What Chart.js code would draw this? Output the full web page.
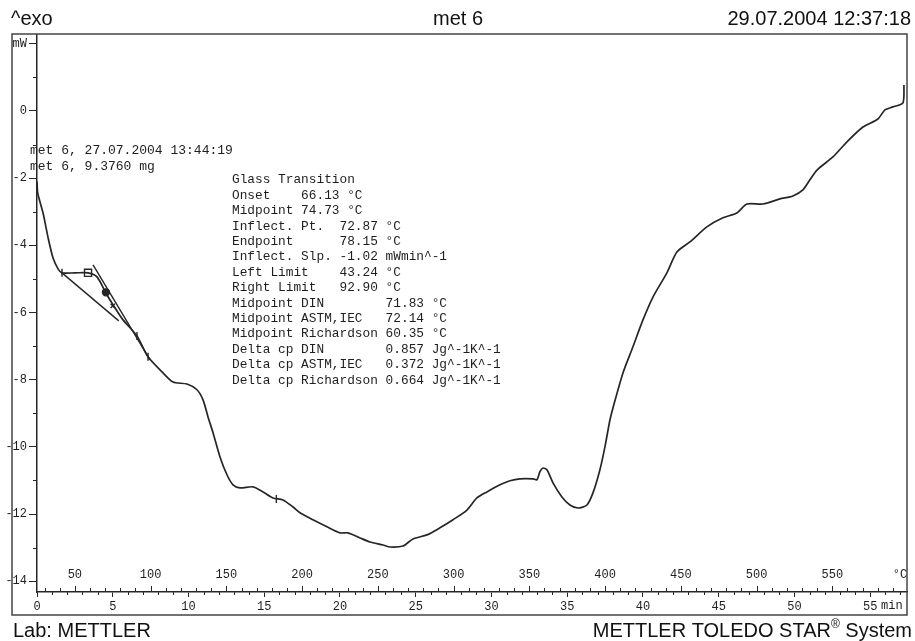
<!DOCTYPE html>
<html>
<head>
<meta charset="utf-8">
<script src="https://cdn.jsdelivr.net/npm/chart.js@4/dist/chart.umd.min.js"></script>
<style>
  html, body { margin: 0; padding: 0; background: #fff; }
  #wrap { width: 915px; height: 641px; }
</style>
</head>
<body>
<div id="wrap"><canvas id="dsc" width="915" height="641"></canvas></div>
<script>
// DSC run "met 6" - heat flow (mW) against time (min), heating 10 K/min from 25 °C
const timeMin = [0, 0.05, 0.4, 0.73, 1.06, 1.39, 1.65, 2.51, 3.37, 3.96, 4.62, 5.02, 5.68, 6.6, 7.33,
  8.32, 8.98, 9.9, 10.56, 10.96, 11.29, 11.62, 12.08, 12.54, 12.94, 13.4, 14.26, 14.92, 15.58, 16.24,
  16.9, 17.36, 18.22, 19.14, 20.0, 20.53, 21.32, 21.98, 22.84, 23.3, 24.16, 24.82, 25.74, 26.6, 27.46,
  28.38, 29.04, 29.7, 30.56, 31.22, 31.88, 32.74, 33.0, 33.2, 33.4, 33.66, 34.06, 34.65, 35.18, 35.71,
  36.3, 36.7, 37.16, 37.49, 37.82, 38.02, 38.68, 39.34, 40.0, 40.66, 41.58, 42.24, 43.1, 44.22, 45.28,
  46.2, 46.86, 47.92, 49.04, 49.9, 50.56, 51.02, 51.49, 52.54, 53.47, 54.52, 55.51, 55.97, 56.5, 57.16, 57.23];
const heatFlow = [-2.10, -2.45, -3.04, -3.77, -4.38, -4.70, -4.82, -4.82, -4.82, -4.94, -5.48, -5.77, -6.22, -6.70, -7.32,
  -7.80, -8.07, -8.13, -8.30, -8.60, -9.11, -9.58, -10.30, -10.83, -11.13, -11.22, -11.19, -11.34, -11.52, -11.58,
  -11.79, -11.96, -12.17, -12.38, -12.56, -12.56, -12.71, -12.83, -12.92, -12.98, -12.95, -12.74, -12.62, -12.41, -12.17,
  -11.88, -11.52, -11.34, -11.13, -11.01, -10.95, -10.95, -10.98, -10.74, -10.63, -10.68, -11.07, -11.49, -11.73, -11.82,
  -11.73, -11.37, -10.68, -10.00, -9.20, -8.84, -7.80, -7.02, -6.22, -5.54, -4.82, -4.20, -3.90, -3.45, -3.18,
  -3.04, -2.77, -2.77, -2.62, -2.53, -2.35, -2.05, -1.76, -1.37, -0.92, -0.48, -0.24, 0.03, 0.12, 0.24, 0.77];

// glass transition construction lines
const baselineTime = [1.65, 5.4];
const baselineFlow = [-4.82, -6.25];
const tangentTime = [3.70, 7.46];
const tangentFlow = [-4.58, -7.41];

// evaluation markers: left limit, onset box, midpoint, inflection, ticks
const markerTime = [1.65, 3.37, 4.55, 5.0, 6.6, 7.33, 15.8];
const markerFlow = [-4.82, -4.82, -5.40, -5.80, -6.70, -7.32, -11.55];

// axis ticks and labels
const yTickStep = 2;
const xTickStep = 5;
const tempLabels = [50, 100, 150, 200, 250, 300, 350, 400, 450, 500, 550];
const startTemp = 25;
const heatRate = 10;

const headerLeft = '^exo';
const headerMid = 'met 6';
const headerRight = '29.07.2004 12:37:18';
const footerLeft = 'Lab: METTLER';
const footerRight = 'METTLER TOLEDO STAR';
const sampleLines = ['met 6, 27.07.2004 13:44:19', 'met 6, 9.3760 mg'];
const resultLines = [
  'Glass Transition',
  'Onset    66.13 °C',
  'Midpoint 74.73 °C',
  'Inflect. Pt.  72.87 °C',
  'Endpoint      78.15 °C',
  'Inflect. Slp. -1.02 mWmin^-1',
  'Left Limit    43.24 °C',
  'Right Limit   92.90 °C',
  'Midpoint DIN        71.83 °C',
  'Midpoint ASTM,IEC   72.14 °C',
  'Midpoint Richardson 60.35 °C',
  'Delta cp DIN        0.857 Jg^-1K^-1',
  'Delta cp ASTM,IEC   0.372 Jg^-1K^-1',
  'Delta cp Richardson 0.664 Jg^-1K^-1'
];

const ink = '#262626';
const mono = '"Liberation Mono", "DejaVu Sans Mono", monospace';
const sans = '"Liberation Sans", Arial, sans-serif';

const toPoints = (xs, ys) => xs.map((x, i) => ({ x: x, y: ys[i] }));

const framePlugin = {
  id: 'mettlerFrame',
  afterDraw(chart) {
    const ctx = chart.ctx;
    const xs = chart.scales.x;
    const ys = chart.scales.y;
    const area = chart.chartArea;
    ctx.save();

    // outer frame
    ctx.strokeStyle = '#444';
    ctx.lineWidth = 1.5;
    ctx.strokeRect(12, 34, area.right - 12, 615 - 34);

    // minor y ticks every 1 mW
    ctx.strokeStyle = ink;
    ctx.lineWidth = 1;
    for (let v = Math.ceil(ys.min); v <= ys.max; v++) {
      if (v % yTickStep === 0) continue;
      const py = Math.round(ys.getPixelForValue(v)) + 0.5;
      ctx.beginPath();
      ctx.moveTo(area.left - 4, py);
      ctx.lineTo(area.left, py);
      ctx.stroke();
    }

    // minute ticks (down) and temperature ticks (up)
    const by = area.bottom;
    for (let t = 1; t < xs.max; t++) {
      if (t % xTickStep === 0) continue;
      const px = Math.round(xs.getPixelForValue(t)) + 0.5;
      ctx.beginPath();
      ctx.moveTo(px, by);
      ctx.lineTo(px, by + 3);
      ctx.stroke();
    }
    for (let T = startTemp + 5; ; T += 10) {
      const t = (T - startTemp) / heatRate;
      if (t > xs.max) break;
      const px = Math.round(xs.getPixelForValue(t)) + 0.5;
      const len = tempLabels.includes(T) ? 6 : 4;
      ctx.beginPath();
      ctx.moveTo(px, by);
      ctx.lineTo(px, by - len);
      ctx.stroke();
    }

    // temperature labels above the axis
    ctx.fillStyle = '#1e1e1e';
    ctx.font = '12px ' + mono;
    ctx.textAlign = 'center';
    ctx.textBaseline = 'middle';
    tempLabels.forEach(T => {
      const px = xs.getPixelForValue((T - startTemp) / heatRate);
      ctx.fillText(String(T), px, 575);
    });
    ctx.fillText('°C', 900, 575);
    ctx.textAlign = 'left';
    ctx.fillText('min', 881, 606);

    // header and footer
    ctx.font = '20px ' + sans;
    ctx.textBaseline = 'alphabetic';
    ctx.fillStyle = '#111';
    ctx.textAlign = 'left';
    ctx.fillText(headerLeft, 11, 25);
    ctx.textAlign = 'center';
    ctx.fillText(headerMid, 458, 25);
    ctx.textAlign = 'right';
    ctx.fillText(headerRight, 911, 25);
    ctx.textAlign = 'left';
    ctx.fillText(footerLeft, 13, 637);
    ctx.textAlign = 'right';
    ctx.fillText('System', 912, 637);
    const sysW = ctx.measureText(' System').width;
    ctx.font = '12px ' + sans;
    ctx.fillText('®', 912 - sysW, 628);
    const regW = ctx.measureText('®').width;
    ctx.font = '20px ' + sans;
    ctx.fillText(footerRight, 912 - sysW - regW, 637);

    // sample info and evaluation results
    ctx.font = '13px ' + mono;
    ctx.fillStyle = '#1e1e1e';
    ctx.textAlign = 'left';
    ctx.textBaseline = 'middle';
    sampleLines.forEach((s, i) => ctx.fillText(s, 30, 151 + i * 16));
    ctx.font = '12.8px ' + mono;
    resultLines.forEach((s, i) => ctx.fillText(s, 232, 180 + i * 15.4));

    ctx.restore();
  }
};

new Chart(document.getElementById('dsc'), {
  type: 'line',
  data: {
    datasets: [
      {
        data: toPoints(timeMin, heatFlow),
        borderColor: ink,
        borderWidth: 1.7,
        pointRadius: 0,
        tension: 0.25,
        fill: false
      },
      {
        data: toPoints(baselineTime, baselineFlow),
        borderColor: ink,
        borderWidth: 1.4,
        pointRadius: 0,
        fill: false
      },
      {
        data: toPoints(tangentTime, tangentFlow),
        borderColor: ink,
        borderWidth: 1.4,
        pointRadius: 0,
        fill: false
      },
      {
        data: toPoints(markerTime, markerFlow),
        showLine: false,
        pointStyle: ['line', 'rect', 'circle', 'crossRot', 'line', 'line', 'line'],
        rotation: [90, 0, 0, 0, 90, 90, 90],
        pointRadius: [4, 5, 3.5, 3, 4, 4, 4],
        pointBorderWidth: 1.4,
        pointBorderColor: ink,
        pointBackgroundColor: ['#fff', '#fff', ink, ink, ink, ink, ink]
      }
    ]
  },
  options: {
    responsive: false,
    animation: false,
    devicePixelRatio: 1,
    layout: { padding: { top: 35, right: 8, left: 0, bottom: 0 } },
    plugins: {
      legend: { display: false },
      tooltip: { enabled: false }
    },
    scales: {
      x: {
        type: 'linear',
        position: 'bottom',
        min: 0,
        max: 57.43,
        afterFit: s => { s.height = 49; },
        border: { display: true, color: ink, width: 1.5 },
        grid: { drawOnChartArea: false, tickLength: 5, color: ink },
        ticks: {
          stepSize: xTickStep,
          includeBounds: false,
          autoSkip: false,
          maxRotation: 0,
          padding: 3,
          color: '#1e1e1e',
          font: { family: mono, size: 12 }
        }
      },
      y: {
        type: 'linear',
        position: 'left',
        min: -14.32,
        max: 2.26,
        afterFit: s => { s.width = 37; },
        border: { display: true, color: ink, width: 1.5 },
        grid: { drawOnChartArea: false, tickLength: 8, color: ink },
        ticks: {
          stepSize: yTickStep,
          includeBounds: false,
          padding: 2,
          color: '#1e1e1e',
          font: { family: mono, size: 12 },
          callback: v => (v === 2 ? 'mW' : String(v))
        }
      }
    }
  },
  plugins: [framePlugin]
});
</script>
</body>
</html>
